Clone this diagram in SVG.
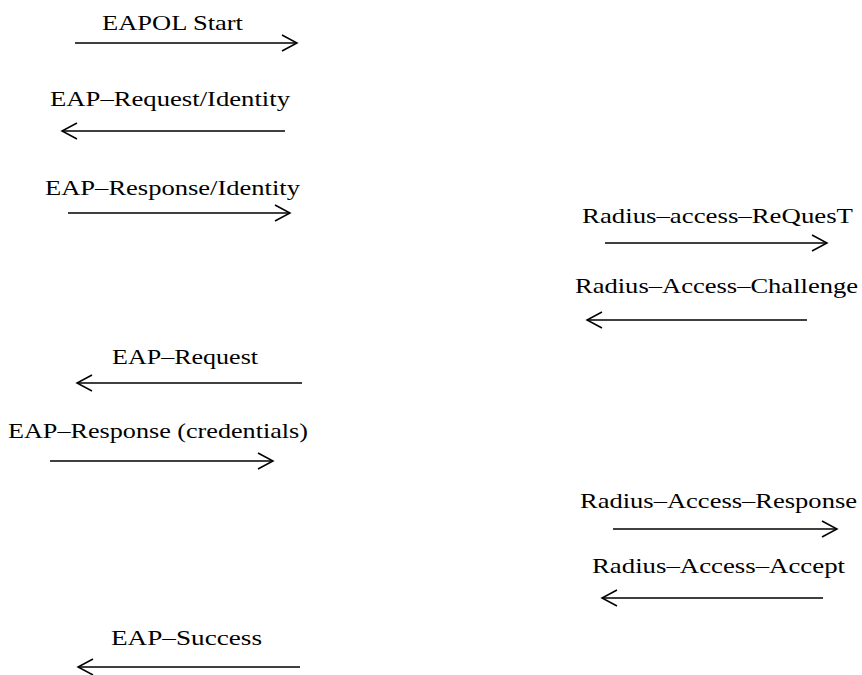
<svg xmlns="http://www.w3.org/2000/svg" width="862" height="675" viewBox="0 0 862 675">
<style>
text{font-family:"Liberation Serif","DejaVu Serif",serif;font-size:21px;fill:#000}
.ln{stroke:#000;stroke-width:1.5;fill:none}
.hd{stroke:#000;stroke-width:1.5;fill:none}
</style>
<rect width="862" height="675" fill="#fff"/>
<g id="labels">
<g id="m1"><text x="102" y="30" textLength="141" lengthAdjust="spacingAndGlyphs">EAPOL Start</text></g>
<g id="m2"><text x="50" y="106" textLength="240" lengthAdjust="spacingAndGlyphs">EAP–Request/Identity</text></g>
<g id="m3"><text x="45" y="195" textLength="255" lengthAdjust="spacingAndGlyphs">EAP–Response/Identity</text></g>
<g id="m4"><text x="582" y="223" textLength="271" lengthAdjust="spacingAndGlyphs">Radius–access–ReQuesT</text></g>
<g id="m5"><text x="575" y="293" textLength="283" lengthAdjust="spacingAndGlyphs">Radius–Access–Challenge</text></g>
<g id="m6"><text x="112" y="364" textLength="146" lengthAdjust="spacingAndGlyphs">EAP–Request</text></g>
<g id="m7"><text x="8" y="438" textLength="300" lengthAdjust="spacingAndGlyphs">EAP–Response (credentials)</text></g>
<g id="m8"><text x="580" y="508" textLength="277" lengthAdjust="spacingAndGlyphs">Radius–Access–Response</text></g>
<g id="m9"><text x="592" y="573" textLength="253" lengthAdjust="spacingAndGlyphs">Radius–Access–Accept</text></g>
<g id="m10"><text x="111" y="645" textLength="151" lengthAdjust="spacingAndGlyphs">EAP–Success</text></g>
</g>
<g id="connectors">
<path class="ln" d="M75 43H297"/><path class="hd" d="M282 35L297 43L282 51"/>
<path class="ln" d="M62 131H285"/><path class="hd" d="M77 123L62 131L77 139"/>
<path class="ln" d="M68 213H290"/><path class="hd" d="M275 205L290 213L275 221"/>
<path class="ln" d="M605 243H827"/><path class="hd" d="M812 235L827 243L812 251"/>
<path class="ln" d="M587 320H807"/><path class="hd" d="M602 312L587 320L602 328"/>
<path class="ln" d="M77 383H302"/><path class="hd" d="M92 375L77 383L92 391"/>
<path class="ln" d="M50 461H273"/><path class="hd" d="M258 453L273 461L258 469"/>
<path class="ln" d="M613 529H837"/><path class="hd" d="M822 521L837 529L822 537"/>
<path class="ln" d="M602 598H823"/><path class="hd" d="M617 590L602 598L617 606"/>
<path class="ln" d="M78 667H300"/><path class="hd" d="M93 659L78 667L93 675"/>
</g>
</svg>
